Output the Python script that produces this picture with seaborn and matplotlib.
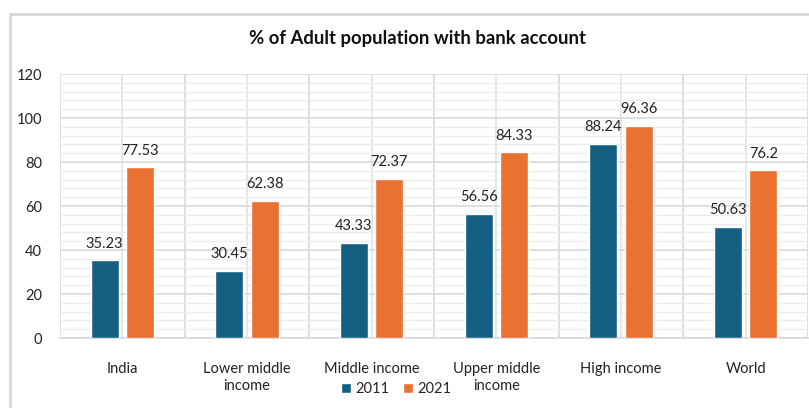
import matplotlib
matplotlib.use("Agg")
import matplotlib.pyplot as plt
import seaborn as sns
import pandas as pd
from matplotlib.patches import Rectangle, Patch
from matplotlib.ticker import MultipleLocator

categories = ["India", "Lower middle\nincome", "Middle income", "Upper middle\nincome", "High income", "World"]
values_2011 = [35.23, 30.45, 43.33, 56.56, 88.24, 50.63]
values_2021 = [77.53, 62.38, 72.37, 84.33, 96.36, 76.2]
years = ["2011", "2021"]
labels_2011 = ["35.23", "30.45", "43.33", "56.56", "88.24", "50.63"]
labels_2021 = ["77.53", "62.38", "72.37", "84.33", "96.36", "76.2"]

df = pd.DataFrame({
    "category": categories * 2,
    "year": [years[0]] * len(categories) + [years[1]] * len(categories),
    "value": values_2011 + values_2021,
})

sns.set_theme(style="white")
plt.rcParams["font.family"] = ["Lato", "DejaVu Sans"]

BLUE = "#156082"
ORANGE = "#E97132"

fig = plt.figure(figsize=(8.09, 4.08), dpi=100)
ax = fig.add_axes([60 / 809, 70 / 408, 748 / 809, 264 / 408])

sns.barplot(data=df, x="category", y="value", hue="year", palette=[BLUE, ORANGE],
            width=0.57, gap=0.21, ax=ax, legend=False, saturation=1, zorder=3)

ax.set_ylim(0, 120)
ax.set_xlim(-0.5, len(categories) - 0.5)
ax.yaxis.set_major_locator(MultipleLocator(20))
ax.yaxis.set_minor_locator(MultipleLocator(4))
ax.set_xticks(range(len(categories)))
ax.set_xticks([i - 0.5 for i in range(len(categories) + 1)], minor=True)
ax.grid(which="major", axis="y", color="#D9D9D9", lw=1.2, zorder=0)
ax.grid(which="minor", axis="y", color="#EDEDED", lw=0.9, zorder=0)
ax.grid(which="major", axis="x", color="#E3E3E3", lw=1.2, zorder=0)
ax.grid(which="minor", axis="x", color="#D9D9D9", lw=1.2, zorder=0)
ax.set_axisbelow(True)
for s in ["top", "right", "left"]:
    ax.spines[s].set_visible(False)
ax.spines["bottom"].set_color("#D9D9D9")
ax.spines["bottom"].set_linewidth(1.2)
ax.tick_params(axis="both", which="both", length=0)
ax.tick_params(axis="y", pad=13, labelsize=10.5, labelcolor="#222222")
ax.tick_params(axis="x", pad=17, labelsize=10.5, labelcolor="#222222")
for t in ax.get_xticklabels():
    t.set_linespacing(1.35)
ax.set_xlabel("")
ax.set_ylabel("")

for cont, labs in zip(ax.containers, [labels_2011, labels_2021]):
    ax.bar_label(cont, labels=labs, padding=7, fontsize=10.5, color="#222222")

fig.text(417 / 809, 0.905, "% of Adult population with bank account", ha="center", va="center",
         fontsize=13.3, fontweight="bold", color="#111111")

handles = [Patch(facecolor=BLUE), Patch(facecolor=ORANGE)]
fig.legend(handles, years, loc="center", bbox_to_anchor=(396 / 809, 1 - 389 / 408),
           ncol=2, frameon=False, fontsize=10.5, handlelength=0.7, handleheight=0.7,
           handletextpad=0.3, columnspacing=0.9)

fig.patches.append(Rectangle((10 / 809, -0.05), 1.1, 1 - 14 / 408 + 0.05, transform=fig.transFigure,
                             fill=False, edgecolor="#D9D9D9", lw=2, zorder=-1))

fig.savefig("out.png", dpi=100)
